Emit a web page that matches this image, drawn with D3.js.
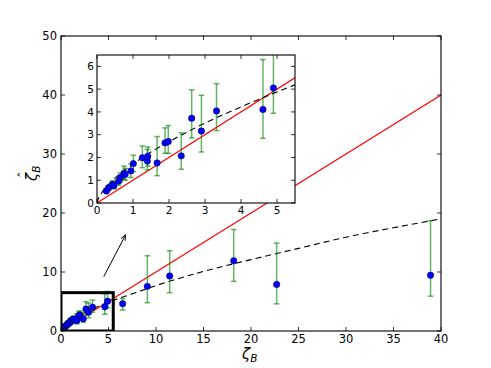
<!DOCTYPE html>
<html><head><meta charset="utf-8">
<script src="https://cdn.jsdelivr.net/npm/d3@7"></script>
<style>body{margin:0;background:#fff} svg text{font-family:"DejaVu Sans",sans-serif}</style>
</head><body><svg id="c" width="491" height="368"></svg>
<script>
// ---- data ----
const xTrue = [0.26,0.32,0.43,0.47,0.60,0.65,0.75,0.78,0.94,1.01,1.26,1.40,1.41,1.67,1.89,1.98,2.34,2.63,2.90,3.32,4.61,4.90,6.49,9.09,11.44,18.18,22.7,38.9];
const yEst  = [0.53,0.66,0.82,0.76,0.96,1.12,1.31,1.25,1.41,1.73,1.99,1.84,2.05,1.76,2.64,2.70,2.07,3.72,3.16,4.04,4.11,5.05,4.63,7.57,9.32,11.9,7.9,9.44];
const yLow  = [0.42,0.55,0.68,0.62,0.78,0.92,1.04,1.00,1.12,1.38,1.55,1.45,1.62,1.20,2.18,2.18,1.48,2.86,2.24,3.18,2.84,3.94,3.56,4.80,6.50,8.4,4.6,5.9];
const yHigh = [0.64,0.78,0.98,0.92,1.16,1.32,1.62,1.52,1.72,2.10,2.50,2.35,2.46,2.92,3.30,3.40,3.08,4.97,4.73,5.24,6.30,6.7,5.50,12.76,13.60,17.2,14.9,18.7];
// dashed fit curve
const fitX = [0,0.05,0.1,0.25,0.5,1,1.5,2,3,4,5.5,7.5,10,15,20,25,30,35,40];
const fitY = [0,0.24,0.38,0.69,1.09,1.71,2.24,2.69,3.51,4.22,5.19,6.3,7.69,10.1,12.1,14.0,15.9,17.5,19.0];
// identity line y = x
const diagX = [0,40];
const diagY = [0,40];
const mainXTicks = [0,5,10,15,20,25,30,35,40];
const mainYTicks = [0,10,20,30,40,50];
const insetXTicks = [0,1,2,3,4,5];
const insetYTicks = [0,1,2,3,4,5,6];
const zoomBoxX = [0,5.5];
const zoomBoxY = [0,6.5];
const arrowFrom = [4.5,9.2];
const arrowTo = [6.8,16.3];

const svg = d3.select("#c");
const pts = xTrue.map((x,i)=>({x, y:yEst[i], lo:yLow[i], hi:yHigh[i]}));
const fit = fitX.map((x,i)=>[x, fitY[i]]);
const diag = diagX.map((x,i)=>[x, diagY[i]]);

function panel(g, x, y, id, capW, r){
  const [x0,x1] = x.range(), [y0,y1] = y.range();
  g.append("rect").attr("x",x0).attr("y",y1).attr("width",x1-x0).attr("height",y0-y1).attr("fill","#fff");
  g.append("clipPath").attr("id",id).append("rect").attr("x",x0).attr("y",y1).attr("width",x1-x0).attr("height",y0-y1);
  const c = g.append("g").attr("clip-path",`url(#${id})`);
  const line = d3.line().x(d=>x(d[0])).y(d=>y(d[1]));
  c.append("path").attr("d",line(diag)).attr("fill","none").attr("stroke","#ff0000").attr("stroke-width",1.1);
  c.append("path").attr("d",d3.line().curve(d3.curveMonotoneX).x(d=>x(d[0])).y(d=>y(d[1]))(fit))
    .attr("fill","none").attr("stroke","#000").attr("stroke-width",1.1).attr("stroke-dasharray","6,4");
  const eb = c.append("g").attr("stroke","rgb(0,128,0)").attr("stroke-opacity",0.6).attr("stroke-width",1.5);
  pts.forEach(p=>{
    eb.append("line").attr("x1",x(p.x)).attr("x2",x(p.x)).attr("y1",y(p.lo)).attr("y2",y(p.hi));
    eb.append("line").attr("x1",x(p.x)-capW).attr("x2",x(p.x)+capW).attr("y1",y(p.lo)).attr("y2",y(p.lo));
    eb.append("line").attr("x1",x(p.x)-capW).attr("x2",x(p.x)+capW).attr("y1",y(p.hi)).attr("y2",y(p.hi));
  });
  c.selectAll("circle").data(pts).join("circle").attr("cx",d=>x(d.x)).attr("cy",d=>y(d.y)).attr("r",r)
    .attr("fill","#0000ff").attr("stroke","#000033").attr("stroke-width",0.5);
  return c;
}
function frame(g, x, y, xTicks, yTicks, fs, tickLen, xLabDy, yLabDx){
  const [x0,x1] = x.range(), [y0,y1] = y.range();
  const t = g.append("g").attr("stroke","#000").attr("stroke-width",0.8);
  xTicks.forEach(v=>{
    t.append("line").attr("x1",x(v)).attr("x2",x(v)).attr("y1",y0).attr("y2",y0-tickLen);
    t.append("line").attr("x1",x(v)).attr("x2",x(v)).attr("y1",y1).attr("y2",y1+tickLen);
  });
  yTicks.forEach(v=>{
    t.append("line").attr("x1",x0).attr("x2",x0+tickLen).attr("y1",y(v)).attr("y2",y(v));
    t.append("line").attr("x1",x1).attr("x2",x1-tickLen).attr("y1",y(v)).attr("y2",y(v));
  });
  g.append("rect").attr("x",x0).attr("y",y1).attr("width",x1-x0).attr("height",y0-y1)
    .attr("fill","none").attr("stroke","#000").attr("stroke-width",1.1);
  g.selectAll(null).data(xTicks).join("text").attr("x",d=>x(d)).attr("y",y0+xLabDy)
    .attr("text-anchor","middle").attr("font-size",fs).attr("fill","#000").text(d=>d);
  g.selectAll(null).data(yTicks).join("text").attr("x",x0-yLabDx).attr("y",d=>y(d)).attr("dy","0.36em")
    .attr("text-anchor","end").attr("font-size",fs).attr("fill","#000").text(d=>d);
}

// main axes
const X = d3.scaleLinear().domain([0,40]).range([61,441]);
const Y = d3.scaleLinear().domain([0,50]).range([331,36]);
const gm = svg.append("g");
const cm = panel(gm, X, Y, "clipMain", 2.8, 3.2);
// zoom rectangle
cm.append("rect").attr("x",X(zoomBoxX[0])).attr("y",Y(zoomBoxY[1]))
  .attr("width",X(zoomBoxX[1])-X(zoomBoxX[0])).attr("height",Y(zoomBoxY[0])-Y(zoomBoxY[1]))
  .attr("fill","none").attr("stroke","#000").attr("stroke-width",3);
frame(gm, X, Y, mainXTicks, mainYTicks, 11.5, 4, 12, 4);

// arrow
const ax1 = X(arrowFrom[0]), ay1 = Y(arrowFrom[1]), ax2 = X(arrowTo[0]), ay2 = Y(arrowTo[1]);
const ang = Math.atan2(ay2-ay1, ax2-ax1);
gm.append("line").attr("x1",ax1).attr("y1",ay1).attr("x2",ax2).attr("y2",ay2).attr("stroke","#000").attr("stroke-width",1);
[ang+Math.PI-0.4, ang+Math.PI+0.4].forEach(a=>{
  gm.append("line").attr("x1",ax2).attr("y1",ay2).attr("x2",ax2+6*Math.cos(a)).attr("y2",ay2+6*Math.sin(a))
    .attr("stroke","#000").attr("stroke-width",1);
});

// axis labels
const xl = gm.append("text").attr("x",242).attr("y",359).attr("font-size",15).attr("font-style","italic").attr("fill","#000");
xl.append("tspan").text("ζ");
xl.append("tspan").attr("font-size",10.5).attr("dy",3).text("B");
const yg = gm.append("g").attr("transform","translate(37,172) rotate(-90)");
const yl = yg.append("text").attr("x",-9).attr("y",0).attr("font-size",15).attr("font-style","italic").attr("fill","#000");
yl.append("tspan").text("ζ");
yl.append("tspan").attr("font-size",10.5).attr("dy",3).text("B");
yg.append("text").attr("x",-6).attr("y",-9).attr("font-size",13).attr("fill","#000").text("ˆ");

// inset axes
const XI = d3.scaleLinear().domain([0,5.5]).range([97,295]);
const YI = d3.scaleLinear().domain([0,6.5]).range([203,55]);
const gi = svg.append("g");
panel(gi, XI, YI, "clipInset", 2.8, 3.2);
frame(gi, XI, YI, insetXTicks, insetYTicks, 10.5, 4, 11, 3);
</script></body></html>
